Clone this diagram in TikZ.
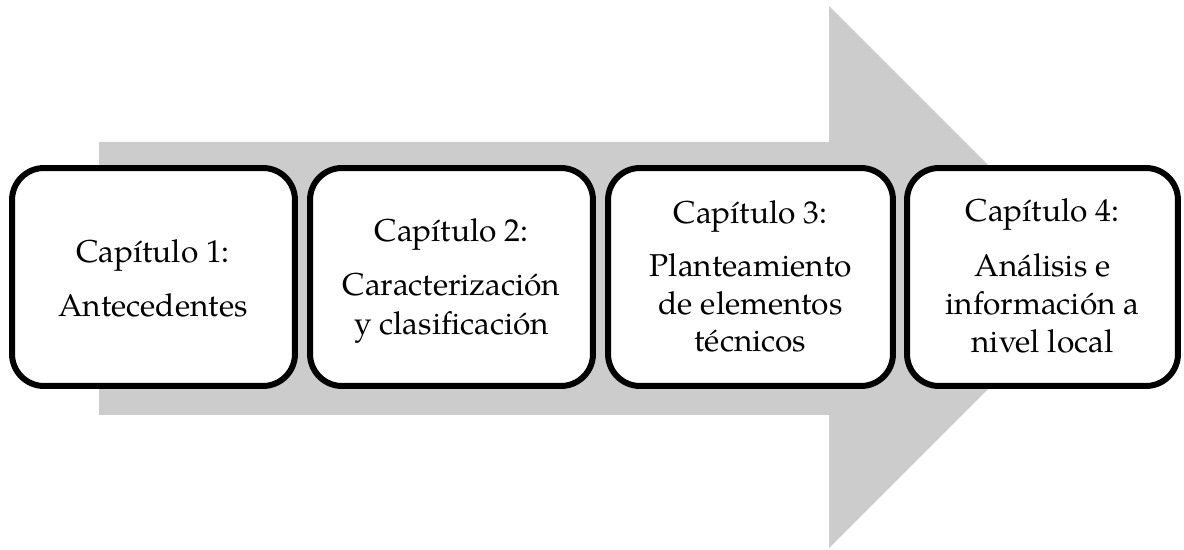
\documentclass[tikz,border=0pt]{standalone}
\usepackage{fontspec}
\setmainfont{texgyrepagella}[Extension=.otf, UprightFont=*-regular, BoldFont=*-bold, ItalicFont=*-italic, BoldItalicFont=*-bolditalic]
\definecolor{arrowgray}{RGB}{204,204,204}
\tikzset{
  chapbox/.style={draw=black, fill=white, line width=3.4pt, rounded corners=0.64cm, minimum height=4.36cm, inner sep=0pt},
  chaptext/.style={anchor=base, inner sep=0pt, font=\fontsize{18pt}{21.6pt}\selectfont, text=black}
}
\begin{document}
\begin{tikzpicture}[x=0.02cm, y=-0.02cm]
\useasboundingbox (0,0) rectangle (1184,550);
% big arrow
\fill[arrowgray] (99,142) -- (829,142) -- (829,6) -- (1100,277) -- (829,548) -- (829,415) -- (99,415) -- cycle;
% boxes
\node[chapbox, minimum width=5.66cm] (b1) at (153.5,277) {};
\node[chapbox, minimum width=5.66cm] (b2) at (451.5,277) {};
\node[chapbox, minimum width=5.70cm] (b3) at (750.5,277) {};
\node[chapbox, minimum width=5.42cm] (b4) at (1042.5,277) {};
% texts box 1
\node[chaptext] (t1a) at (153,263) {Capítulo 1:};
\node[chaptext] (t1b) at (153,317) {Antecedentes};
% box 2
\node[chaptext] (t2a) at (451.5,242) {Capítulo 2:};
\node[chaptext] (t2b) at (451.5,296) {Caracterización};
\node[chaptext] (t2c) at (451.5,335) {y clasificación};
% box 3
\node[chaptext] (t3a) at (750.5,224) {Capítulo 3:};
\node[chaptext] (t3b) at (750.5,277) {Planteamiento};
\node[chaptext] (t3c) at (750.5,315) {de elementos};
\node[chaptext] (t3d) at (750.5,352) {técnicos};
% box 4
\node[chaptext] (t4a) at (1042.5,222) {Capítulo 4:};
\node[chaptext] (t4b) at (1042.5,277) {Análisis e};
\node[chaptext] (t4c) at (1042.5,315) {información a};
\node[chaptext] (t4d) at (1042.5,353) {nivel local};
\end{tikzpicture}
\end{document}
